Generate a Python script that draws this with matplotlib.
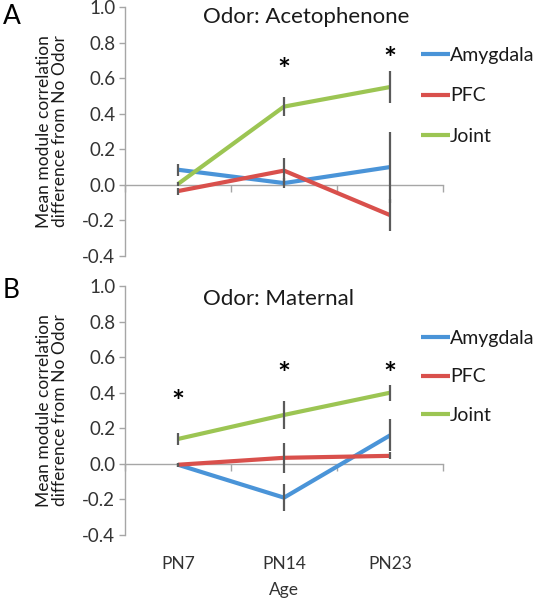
import matplotlib
matplotlib.use("Agg")
import matplotlib.pyplot as plt
import numpy as np

plt.rcParams['font.family'] = ['Lato', 'DejaVu Sans']

ages = ["PN7", "PN14", "PN23"]
series_names = ["Amygdala", "PFC", "Joint"]
colors = ["#4a94d8", "#d9504c", "#9cc553"]

# Panel A: Odor: Acetophenone
a_amy = [0.085, 0.01, 0.10]
a_pfc = [-0.035, 0.08, -0.17]
a_joint = [0.005, 0.44, 0.55]
a_amy_err = [0.035, 0.03, 0.20]
a_pfc_err = [0.02, 0.07, 0.09]
a_joint_err = [0.01, 0.055, 0.09]
a_star_x = [1, 2]
a_star_y = [0.64, 0.70]

# Panel B: Odor: Maternal
b_amy = [-0.005, -0.19, 0.16]
b_pfc = [-0.005, 0.034, 0.045]
b_joint = [0.14, 0.275, 0.40]
b_amy_err = [0.01, 0.076, 0.09]
b_pfc_err = [0.01, 0.085, 0.02]
b_joint_err = [0.035, 0.08, 0.045]
b_star_x = [0, 1, 2]
b_star_y = [0.34, 0.50, 0.50]

yticks = [-0.4, -0.2, 0.0, 0.2, 0.4, 0.6, 0.8, 1.0]

W, H = 539, 600
fig = plt.figure(figsize=(W / 100, H / 100), dpi=100)

axis_gray = "#a6a6a6"
text_gray = "#333333"
text_dark = "#1a1a1a"


def make_panel(rect, vals, errs, star_x, star_y, title, title_y, letter, letter_y,
               leg_top, leg_spacing, show_x):
    ax = fig.add_axes(rect)
    x = np.arange(len(ages))
    for v, c, n in zip(vals, colors, series_names):
        ax.plot(x, v, color=c, lw=3.0, label=n, solid_capstyle='butt', zorder=2)
    for v, e in zip(vals, errs):
        ax.errorbar(x, v, yerr=e, fmt='none', ecolor="#5a5a5a", elinewidth=1.6,
                    capsize=0, zorder=3)
    for sx, sy in zip(star_x, star_y):
        ax.text(sx, sy, "*", ha='center', va='center', fontsize=22, color='black',
                fontweight='bold')
    ax.set_xlim(-0.5, 2.5)
    ax.set_ylim(-0.4, 1.0)
    ax.set_yticks(yticks)
    ax.set_yticklabels([f"{t:.1f}" for t in yticks])
    for s in ['top', 'right', 'bottom']:
        ax.spines[s].set_visible(False)
    ax.spines['left'].set_color(axis_gray)
    ax.spines['left'].set_linewidth(1.0)
    ax.tick_params(axis='y', colors=axis_gray, length=4, width=1.0,
                   labelcolor=text_gray, labelsize=13.5, pad=3)
    ax.set_xticks(x)
    if show_x:
        ax.set_xticklabels(ages)
        ax.tick_params(axis='x', length=0, labelsize=12.5, labelcolor=text_gray, pad=15)
        ax.set_xlabel("Age", fontsize=12.5, color=text_gray, labelpad=7)
    else:
        ax.set_xticklabels([])
        ax.tick_params(axis='x', length=0)
    # zero line with category boundary ticks
    sec = ax.secondary_xaxis(0.4 / 1.4)
    sec.set_xticks([-0.5, 0.5, 1.5, 2.5])
    sec.set_xticklabels([])
    sec.spines['bottom'].set_color(axis_gray)
    sec.spines['bottom'].set_linewidth(1.0)
    sec.tick_params(axis='x', colors=axis_gray, length=5, width=1.0, direction='out')
    # title
    fig.text(203 / W, 1 - title_y / H, title, ha='left', va='center', fontsize=16,
             color=text_dark)
    fig.text(3 / W, 1 - letter_y / H, letter, ha='left', va='center', fontsize=19,
             color='black')
    # y label
    yc = rect[1] + rect[3] / 2
    fig.text(52 / W, yc, "Mean module correlation\ndifference from No Odor",
             rotation=90, ha='center', va='center', fontsize=12.5, color=text_dark,
             multialignment='center', linespacing=1.0)
    leg = ax.legend(loc='upper left', bbox_to_anchor=(421 / W, 1 - leg_top / H),
                    bbox_transform=fig.transFigure, frameon=False, borderpad=0,
                    borderaxespad=0, handlelength=1.5, handletextpad=0.0,
                    labelspacing=leg_spacing, fontsize=14)
    for t in leg.get_texts():
        t.set_color(text_dark)
    return ax


# Axes A: y=1.0 near top, y=-0.4 at px 256
rectA = [125 / W, 1 - 256 / H, 318 / W, 249 / H]
rectB = [125 / W, 1 - 535 / H, 318 / W, 249 / H]

make_panel(rectA, [a_amy, a_pfc, a_joint], [a_amy_err, a_pfc_err, a_joint_err],
           a_star_x, a_star_y, "Odor: Acetophenone", 17, "A", 17, 47, 1.2, False)
make_panel(rectB, [b_amy, b_pfc, b_joint], [b_amy_err, b_pfc_err, b_joint_err],
           b_star_x, b_star_y, "Odor: Maternal", 299, "B", 290, 330, 1.1, True)

fig.savefig("out.png", dpi=100)
